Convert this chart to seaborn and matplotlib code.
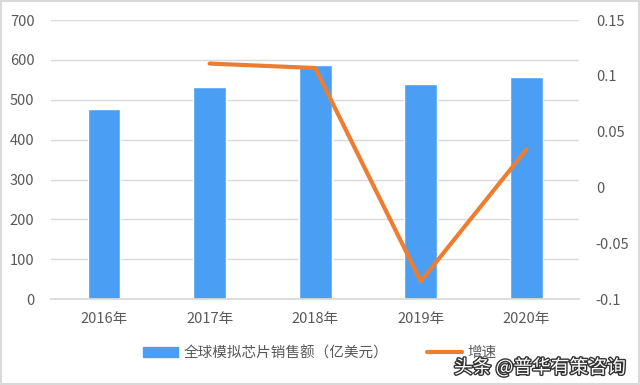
import pandas as pd
import numpy as np
import matplotlib
matplotlib.use('Agg')
import matplotlib.pyplot as plt
import seaborn as sns
from matplotlib.patches import Patch
from matplotlib.lines import Line2D
import matplotlib.patheffects as pe

# data
years = ['2016年', '2017年', '2018年', '2019年', '2020年']
sales = [477, 531, 588, 539, 556]
growth = [np.nan, 0.111, 0.107, -0.084, 0.034]

sns.set_theme(style='white')
plt.rcParams['font.family'] = ['Noto Sans CJK SC', 'DejaVu Sans']

df = pd.DataFrame({'year': years, 'sales': sales, 'growth': growth})

fig = plt.figure(figsize=(6.4, 3.85), dpi=100)
ax = fig.add_axes([0.08, 0.223, 0.825, 0.725])

bar_color = '#4a9ff5'
line_color = '#ed7d31'
text_color = '#595959'

sns.barplot(data=df, x='year', y='sales', color=bar_color, width=0.31,
            saturation=1, ax=ax, zorder=2)
ax.set_ylim(0, 700)
ax.set_yticks(range(0, 701, 100))
ax.yaxis.grid(True, color='#d9d9d9', linewidth=1, zorder=0)
ax.set_axisbelow(True)
ax.set_xlabel('')
ax.set_ylabel('')
for s in ax.spines.values():
    s.set_visible(False)
ax.spines['bottom'].set_visible(True)
ax.spines['bottom'].set_color('#d9d9d9')
ax.tick_params(axis='both', colors=text_color, labelsize=10.5, length=0)
ax.tick_params(axis='y', pad=12)
ax.tick_params(axis='x', pad=9)

ax2 = ax.twinx()
x_pos = np.arange(len(years))
sns.lineplot(x=x_pos, y=df['growth'], color=line_color, linewidth=3, ax=ax2)
ax2.set_ylim(-0.1, 0.15)
ax2.set_yticks([-0.1, -0.05, 0, 0.05, 0.1, 0.15])
ax2.set_yticklabels(['-0.1', '-0.05', '0', '0.05', '0.1', '0.15'])
ax2.set_ylabel('')
for s in ax2.spines.values():
    s.set_visible(False)
ax2.tick_params(axis='y', colors=text_color, labelsize=10.5, length=0, pad=12)
ax.set_xlim(-0.5, 4.5)

handles = [Patch(color=bar_color), Line2D([0], [0], color=line_color, linewidth=3)]
fig.legend(handles, ['全球模拟芯片销售额（亿美元）', '增速'], loc='center',
           bbox_to_anchor=(0.5, 0.083), ncol=2, frameon=False, fontsize=10.5,
           labelcolor=text_color, handlelength=2.4, handletextpad=0.4,
           columnspacing=2.6)

# watermark
fig.text(0.978, 0.045, '头条 @普华有策咨询', ha='right', va='center', fontsize=13.5,
         color='white', path_effects=[pe.withStroke(linewidth=2, foreground='#333333')])

# thin frame round the picture
fig.patches.append(plt.Rectangle((0.002, 0.002), 0.996, 0.996, transform=fig.transFigure,
                                 fill=False, edgecolor='#d9d9d9', linewidth=1.5))

fig.savefig('out.png', dpi=100)
